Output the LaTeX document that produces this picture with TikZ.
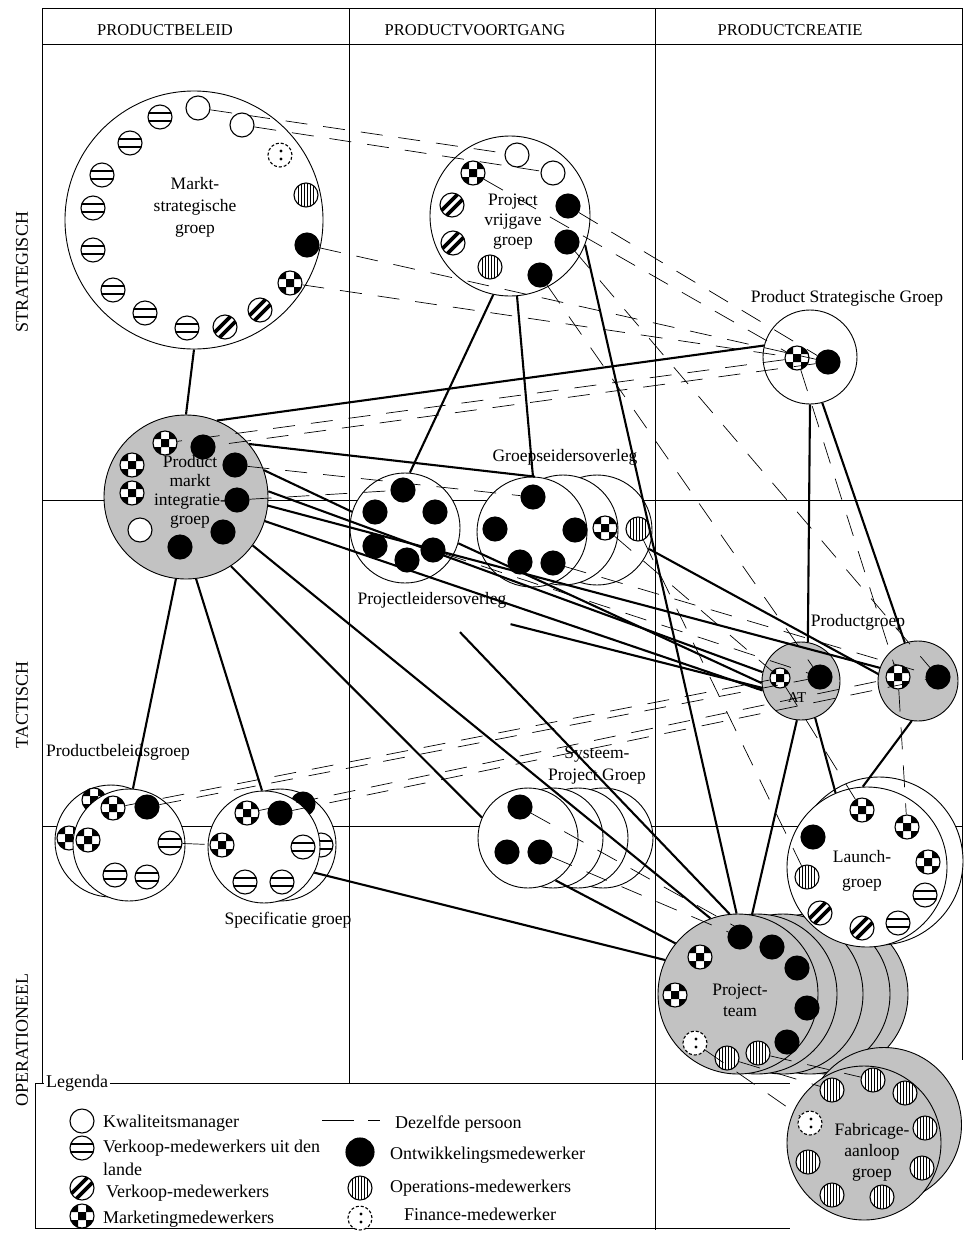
\documentclass[tikz,border=0pt]{standalone}
\usepackage{fontspec}
\setmainfont{Liberation Serif}
\begin{document}
\begin{tikzpicture}[x=1pt,y=-1pt,
  frame/.style={line width=0.9pt},
  grp/.style={circle, draw, line width=0.9pt, fill=white, inner sep=0pt},
  grpS/.style={grp, fill=black!24},
  mem/.style={circle, draw, line width=1.1pt, minimum size=24pt, inner sep=0pt, fill=white},
  kw/.style={mem},
  ow/.style={mem, fill=black},
  vl/.style={mem, path picture={
      \begin{scope}[shift={(path picture bounding box.center)}]
      \draw[black, solid, line width=2.3pt] (-13,-4) -- (13,-4) (-13,4) -- (13,4);
      \end{scope}}},
  vk/.style={mem, path picture={
      \begin{scope}[shift={(path picture bounding box.center)}]
      \draw[black, solid, line width=3.8pt] (-16,11) -- (11,-16) (-11,16) -- (16,-11);
      \end{scope}}},
  mk/.style={mem, path picture={
      \begin{scope}[shift={(path picture bounding box.center)}]
      \fill[black] (-12,-12) rectangle (-4,-4) (4,-12) rectangle (12,-4)
            (-4,-4) rectangle (4,4) (-12,4) rectangle (-4,12) (4,4) rectangle (12,12);
      \end{scope}}},
  op/.style={mem, path picture={
      \begin{scope}[shift={(path picture bounding box.center)}]
      \foreach \xx in {-7.5,-4.5,-1.5,1.5,4.5,7.5} \draw[black, solid, line width=1.3pt] (\xx,-13) -- (\xx,13);
      \end{scope}}},
  fi/.style={mem, dash pattern=on 3pt off 2pt, path picture={
      \begin{scope}[shift={(path picture bounding box.center)}]
      \fill[black] (1,-4) circle (1.6) (1,4) circle (1.6);
      \end{scope}}},
  conn/.style={line width=2.1pt},
  same/.style={line width=0.7pt, dash pattern=on 22pt off 16pt},
  lbl/.style={font=\fontsize{17.5}{22}\selectfont, align=center, inner sep=0pt},
  hdr/.style={font=\fontsize{16.5}{18}\selectfont, inner sep=0pt},
  rowlbl/.style={font=\fontsize{18}{20}\selectfont, rotate=90, inner sep=0pt},
  leg/.style={font=\fontsize{18}{20}\selectfont, anchor=west, inner sep=0pt}
]
\useasboundingbox (0,0) rectangle (975,1235);

% ---------- table frame ----------
\draw[frame] (42,1083) -- (42,8) -- (962,8);
\draw[frame] (42,44) -- (962,44);
\draw[frame] (349,8) -- (349,1083);
\draw[frame] (655,8) -- (655,1230);
\draw[frame] (962,8) -- (962,1060);
\draw[frame] (42,500) -- (962,500);
\draw[frame] (42,826) -- (962,826);

\node[hdr] (h1) at (165,30) {PRODUCTBELEID};
\node[hdr] (h2) at (475,30) {PRODUCTVOORTGANG};
\node[hdr] (h3) at (790,30) {PRODUCTCREATIE};

\node[rowlbl] (r1) at (22,272) {STRATEGISCH};
\node[rowlbl] (r2) at (22,705) {TACTISCH};
\node[rowlbl] (r3) at (22,1040) {OPERATIONEEL};

% ---------- legend box ----------
\draw[frame] (35,1228) -- (35,1083) -- (790,1083);
\draw[frame] (35,1228) -- (790,1228);
\node[leg, fill=white, inner sep=2pt] (lgt) at (44,1083) {Legenda};

% ---------- groups ----------
% Markt-strategische groep
\node[grp, minimum size=258pt] (msg) at (194,220) {};
\node[kw] (m1) at (198,108) {};
\node[kw] (m2) at (242,125) {};
\node[fi] (m3) at (280,155) {};
\node[op] (m4) at (306,195) {};
\node[ow] (m5) at (307,245) {};
\node[mk] (m6) at (290,283) {};
\node[vk] (m7) at (260,310) {};
\node[vk] (m8) at (225,327) {};
\node[vl] (m9) at (187,328) {};
\node[vl] (m10) at (145,313) {};
\node[vl] (m11) at (113,290) {};
\node[vl] (m12) at (93,250) {};
\node[vl] (m13) at (93,208) {};
\node[vl] (m14) at (102,175) {};
\node[vl] (m15) at (130,143) {};
\node[vl] (m16) at (160,117) {};

% Project vrijgave groep
\node[grp, minimum size=160pt] (pv) at (510,216) {};
\node[kw] (v1) at (517,155) {};
\node[kw] (v2) at (553,173) {};
\node[mk] (v3) at (473,173) {};
\node[vk] (v4) at (452,205) {};
\node[vk] (v5) at (453,243) {};
\node[op] (v6) at (490,267) {};
\node[ow] (v7) at (568,206) {};
\node[ow] (v8) at (567,242) {};
\node[ow] (v9) at (540,275) {};

% Product Strategische Groep
\node[grp, minimum size=94pt] (psg) at (810,357) {};
\node[mk] (s1) at (797,358) {};
\node[ow] (s2) at (828,362) {};

% Product markt integratie groep
\node[grpS, minimum size=164pt] (pmi) at (186,497) {};
\node[mk] (p1) at (165,443) {};
\node[mk] (p2) at (132,465) {};
\node[mk] (p3) at (132,493) {};
\node[kw] (p4) at (140,530) {};
\node[ow] (p5) at (203,447) {};
\node[ow] (p6) at (235,465) {};
\node[ow] (p7) at (237,500) {};
\node[ow] (p8) at (223,532) {};
\node[ow] (p9) at (180,547) {};

% Projectleidersoverleg
\node[grp, minimum size=110pt] (plo) at (405,528) {};
\node[ow] (l1) at (403,490) {};
\node[ow] (l2) at (375,512) {};
\node[ow] (l3) at (435,512) {};
\node[ow] (l4) at (375,546) {};
\node[ow] (l5) at (407,560) {};
\node[ow] (l6) at (433,550) {};

% Groepsleidersoverleg (stack of three)
\node[grp, minimum size=110pt] (glo3) at (597,530) {};
\node[grp, minimum size=110pt] (glo2) at (563,530) {};
\node[grp, minimum size=110pt] (glo) at (532,532) {};
\node[ow] (g1) at (533,497) {};
\node[ow] (g2) at (495,529) {};
\node[ow] (g3) at (575,530) {};
\node[ow] (g4) at (520,562) {};
\node[ow] (g5) at (553,563) {};
\node[mk] (g6) at (605,528) {};
\node[op] (g7) at (638,529) {};

% Productgroep
\node[grpS, minimum size=78pt] (at) at (801,681) {};
\node[mk, minimum size=20pt] (a1) at (780,678) {};
\node[ow] (a2) at (820,677) {};
\node[grpS, minimum size=80pt] (pg2) at (918,681) {};
\node[mk] (b1) at (898,677) {};
\node[ow] (b2) at (938,677) {};

% Productbeleidsgroep (two)
\node[grp, minimum size=112pt] (pbb) at (111,841) {};
\node[mk] (e0) at (69,838) {};
\node[mk] (e00) at (94,800) {};
\node[grp, minimum size=112pt] (pb) at (129,845) {};
\node[mk] (e1) at (113,808) {};
\node[ow] (e2) at (147,807) {};
\node[mk] (e3) at (88,840) {};
\node[vl] (e4) at (170,843) {};
\node[vl] (e5) at (115,875) {};
\node[vl] (e6) at (147,877) {};

% Specificatie groep (two)
\node[grp, minimum size=112pt] (spb) at (280,845) {};
\node[vl] (c0) at (321,845) {};
\node[ow] (c00) at (303,804) {};
\node[grp, minimum size=112pt] (sp) at (264,847) {};
\node[mk] (c1) at (247,813) {};
\node[ow] (c2) at (280,813) {};
\node[mk] (c3) at (222,845) {};
\node[vl] (c4) at (303,847) {};
\node[vl] (c5) at (245,882) {};
\node[vl] (c6) at (282,882) {};

% Systeem-Project Groep (stack of four)
\node[grp, minimum size=100pt] (sys4) at (603,838) {};
\node[grp, minimum size=100pt] (sys3) at (578,838) {};
\node[grp, minimum size=100pt] (sys2) at (553,838) {};
\node[grp, minimum size=100pt] (sys) at (528,838) {};
\node[ow] (y1) at (520,807) {};
\node[ow] (y2) at (507,852) {};
\node[ow] (y3) at (540,852) {};

% Projectteam (stack of five)
\node[grpS, minimum size=160pt] (pt5) at (828,994) {};
\node[grpS, minimum size=160pt] (pt4) at (810,994) {};
\node[grpS, minimum size=160pt] (pt3) at (783,994) {};
\node[grpS, minimum size=160pt] (pt2) at (757,994) {};
\node[grpS, minimum size=160pt] (pt) at (738,994) {};
\node[ow] (t1) at (740,937) {};
\node[ow] (t2) at (772,947) {};
\node[ow] (t3) at (797,968) {};
\node[ow] (t4) at (807,1008) {};
\node[ow] (t5) at (787,1042) {};
\node[mk] (t6) at (700,957) {};
\node[mk] (t7) at (675,995) {};
\node[fi] (t8) at (695,1043) {};
\node[op] (t9) at (727,1058) {};
\node[op] (t10) at (758,1053) {};

% Launch-groep (two)
\node[grp, minimum size=168pt] (lnb) at (879,861) {};
\node[grp, minimum size=160pt] (ln) at (867,867) {};
\node[mk] (n1) at (862,810) {};
\node[mk] (n2) at (907,827) {};
\node[mk] (n3) at (928,862) {};
\node[vl] (n4) at (925,895) {};
\node[vl] (n5) at (898,923) {};
\node[vk] (n6) at (862,928) {};
\node[vk] (n7) at (820,913) {};
\node[op] (n8) at (807,877) {};
\node[ow] (n9) at (813,837) {};

% Fabricage-aanloop groep (two)
\node[grpS, minimum size=155pt] (fbb) at (884,1125) {};
\node[grpS, minimum size=154pt] (fb) at (864,1143) {};
\node[op] (f1) at (873,1080) {};
\node[op] (f2) at (905,1093) {};
\node[op] (f3) at (925,1128) {};
\node[op] (f4) at (922,1168) {};
\node[op] (f5) at (882,1197) {};
\node[op] (f6) at (832,1195) {};
\node[op] (f7) at (808,1162) {};
\node[op] (f8) at (832,1090) {};
\node[fi] (f9) at (810,1123) {};

% ---------- group labels ----------
\node[lbl] (tmsg) at (195,207) {Markt-\\strategische\\groep};
\node[lbl, font=\fontsize{17.5}{20}\selectfont] (tpv) at (513,222) {Project\\vrijgave\\groep};
\node[lbl] (tpsg) at (847,298) {Product Strategische Groep};
\node[lbl, font=\fontsize{17.5}{19}\selectfont] (tpmi) at (190,492) {Product\\markt\\integratie-\\groep};
\node[lbl] (tglo) at (565,457) {Groepseidersoverleg};
\node[lbl] (tplo) at (432,600) {Projectleidersoverleg};
\node[lbl] (tpg) at (858,622) {Productgroep};
\node[lbl, font=\fontsize{15}{17}\selectfont] (tat) at (797,698) {AT};
\node[lbl] (tpb) at (118,752) {Productbeleidsgroep};
\node[lbl] (tsp) at (288,920) {Specificatie groep};
\node[lbl, font=\fontsize{17.5}{25}\selectfont] (tln) at (862,871) {Launch-\\groep};
\node[lbl, font=\fontsize{17.5}{21}\selectfont] (tpt) at (740,1000) {Project-\\team};
\node[lbl, font=\fontsize{17.5}{21}\selectfont] (tfb) at (872,1152) {Fabricage-\\aanloop\\groep};

% ---------- structural links between groups ----------
\draw[conn] (msg.south) -- (pmi.north);
\draw[conn] (pmi.68) -- (psg.166);
\draw[conn] (pmi.40) -- (glo.87);
\draw[conn] (pmi.19) -- (plo.163);
\draw[conn] (pmi.4) -- (at.167);
\draw[conn] (pmi.-6) -- (pg2.161);
\draw[conn] (pmi.-17) -- (at.194);
\draw[conn] (pmi.-57) -- (sys.156);
\draw[conn] (pmi.-36) -- (pt.110);
\draw[conn] (pmi.-97) -- (pb.86);
\draw[conn] (pmi.-83) -- (sp.92);
\draw[conn] (pv.-102) -- (plo.85);
\draw[conn] (pv.-85) -- (glo.89);
\draw[conn] (pv.-21) -- (pt.91);
\draw[conn] (psg.-90) -- (at.80);
\draw[conn] (psg.-75) -- (pg2.109);
\draw[conn] (plo.-16) -- (at.183);
\draw[conn] (glo3.-20) -- (pg2.170);
\draw[conn] ([shift={(28pt,-24pt)}]tplo.south) -- (pt.96);
\draw[conn] ([shift={(4pt,-16pt)}]tplo.south east) -- (at.190);
\draw[conn] (at.-96) -- (pt.80);
\draw[conn] (at.-69) -- (ln.113);
\draw[conn] (pg2.-99) -- (ln.93);
\draw[conn] (sys.-57) -- (pt.141);
\draw[conn] (sp.-27) -- (pt.155);

% ---------- same person in several groups ----------
\draw[same] (m1) -- (v1);
\draw[same] (m2) -- (v2);
\draw[same] (m5) -- (s2);
\draw[same] (m6) -- (s1);
\draw[same] (v3) -- (s1);
\draw[same] (v7) -- (s2);
\draw[same] (v8) -- (b2);
\draw[same] (v9) -- (a2);
\draw[same] (s1) -- (p1);
\draw[same] (s2) -- (p5);
\draw[same] (s1) -- (b1);
\draw[same] (p6) -- (g1);
\draw[same] (p7) -- (l1);
\draw[same] (l6) -- (a2);
\draw[same] (g5) -- (b2);
\draw[same] (g6) -- (a1);
\draw[same] (g7) -- (n8);
\draw[same] (e1) -- (a1);
\draw[same] (e2) -- (a2);
\draw[same] (c1) -- (b1);
\draw[same] (c2) -- (b2);
\draw[same] (e4) -- (c3);
\draw[same] (y3) -- (t1);
\draw[same] (y1) -- (t2);
\draw[same] (a1) -- (n1);
\draw[same] (b1) -- (n2);
\draw[same] (t8) -- (f9);
\draw[same] (t9) -- (f8);
\draw[same] (t10) -- (f1);

% label drawn over the link that passes behind it
\node[lbl] (tsys) at (597,766) {Systeem-\\Project Groep};

% ---------- legend ----------
\node[kw] (lg1) at (82,1121) {};
\node[vl] (lg2) at (82,1148) {};
\node[vk] (lg3) at (82,1188) {};
\node[mk] (lg4) at (82,1216) {};
\node[ow, minimum size=28pt] (lg5) at (360,1152) {};
\node[op] (lg6) at (360,1188) {};
\node[fi] (lg7) at (360,1218) {};
\coordinate (lgd1) at (322,1120);
\coordinate (lgd2) at (380,1120);
\draw[line width=0.8pt, dash pattern=on 32pt off 14pt] (lgd1) -- (lgd2);
\node[leg] (lt1) at (103,1123) {Kwaliteitsmanager};
\node[leg] (lt2) at (103,1148) {Verkoop-medewerkers uit den};
\node[leg] (lt2b) at (103,1169) {lande};
\node[leg] (lt3) at (106,1193) {Verkoop-medewerkers};
\node[leg] (lt4) at (103,1219) {Marketingmedewerkers};
\node[leg] (lt5) at (395,1124) {Dezelfde persoon};
\node[leg] (lt6) at (390,1155) {Ontwikkelingsmedewerker};
\node[leg] (lt7) at (390,1188) {Operations-medewerkers};
\node[leg] (lt8) at (404,1214) {Finance-medewerker};
\end{tikzpicture}
\end{document}
